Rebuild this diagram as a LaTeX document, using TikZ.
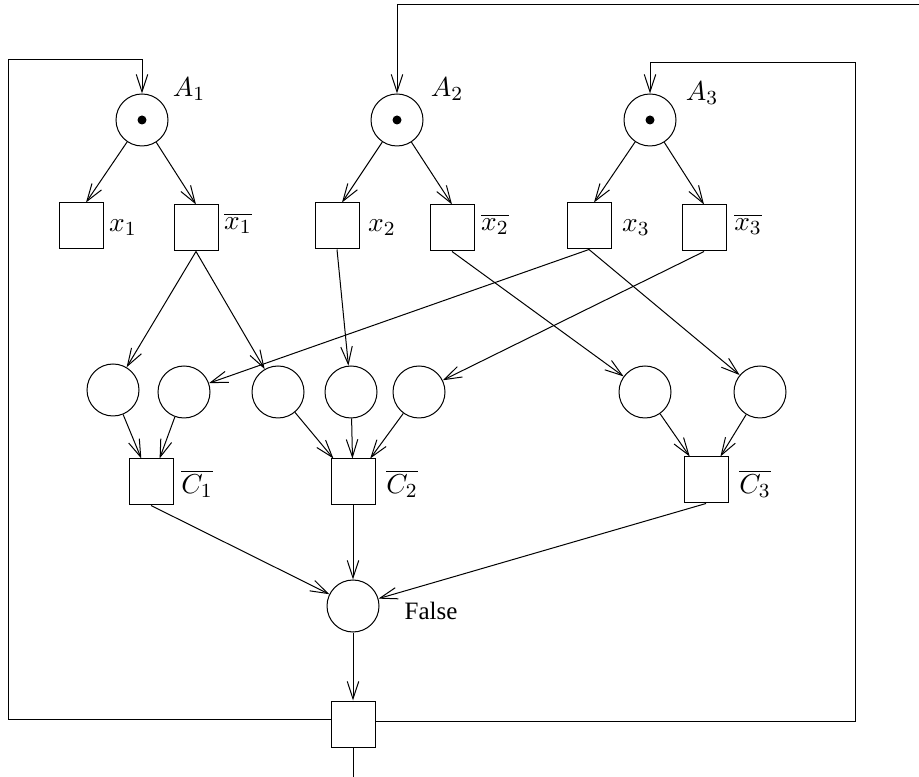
\documentclass[tikz,border=0pt]{standalone}
\usepackage{fontspec}
\newfontfamily\timesfont{Liberation Serif}
\usetikzlibrary{arrows.meta}
\begin{document}
\begin{tikzpicture}[>={Straight Barb[length=7pt,width=4.6pt]},x=0.4pt,y=-0.4pt,
  every node/.style={font=\fontsize{11}{13}\selectfont},
  place/.style={circle,draw,minimum size=20.8pt,inner sep=0pt},
  trans/.style={rectangle,draw,minimum width=17.6pt,minimum height=18.4pt,inner sep=0pt},
  token/.style={circle,fill,inner sep=0pt,minimum size=3.6pt}]
\useasboundingbox (0,0) rectangle (919,777);
\clip (0,0) rectangle (919,777);
% variables
\node[place] (A1) at (142,120) {};
\node[place] (A2) at (397,120) {};
\node[place] (A3) at (650,120) {};
\node[token] (t1) at (A1) {};
\node[token] (t2) at (A2) {};
\node[token] (t3) at (A3) {};
\node (lA1) at (189,89) {$A_1$};
\node (lA2) at (447,89) {$A_2$};
\node (lA3) at (702,93) {$A_3$};
\node[trans] (x1) at (81,226) {};
\node[trans] (nx1) at (196,228) {};
\node[trans] (x2) at (337,226) {};
\node[trans] (nx2) at (452,228) {};
\node[trans] (x3) at (589,226) {};
\node[trans] (nx3) at (704,228) {};
\node (lx1) at (123,228) {$x_1$};
\node (lnx1) at (238,223) {$\overline{x_1}$};
\node (lx2) at (382,228) {$x_2$};
\node (lnx2) at (495,224) {$\overline{x_2}$};
\node (lx3) at (636,228) {$x_3$};
\node (lnx3) at (748,224) {$\overline{x_3}$};
% clauses
\node[place] (p1) at (113,390) {};
\node[place] (p2) at (184,392) {};
\node[place] (p3) at (278,392) {};
\node[place] (p4) at (351,392) {};
\node[place] (p5) at (419,392) {};
\node[place] (p6) at (645,392) {};
\node[place] (p7) at (760,392) {};
\node[trans] (C1) at (151,482) {};
\node[trans] (C2) at (353,482) {};
\node[trans] (C3) at (706,480) {};
\node (lC1) at (197,484) {$\overline{C_1}$};
\node (lC2) at (402,484) {$\overline{C_2}$};
\node (lC3) at (755,484) {$\overline{C_3}$};
\node[place] (F) at (353,606) {};
\node (lF) at (431,611) {\timesfont\fontsize{10}{12}\selectfont False};
\node[trans] (T) at (353,724) {};
% arcs
\draw[->] (A1) -- ([xshift=2pt]x1.north);
\draw[->] (A1) -- (nx1.north);
\draw[->] (A2) -- ([xshift=2pt]x2.north);
\draw[->] (A2) -- (nx2.north);
\draw[->] (A3) -- ([xshift=2pt]x3.north);
\draw[->] (A3) -- (nx3.north);
\draw[->] (nx1.south) -- (p1);
\draw[->] (nx1.south) -- (p3);
\draw[->] (x2.south) -- (p4);
\draw[->] (nx2.south) -- (p6);
\draw[->] (x3.south) -- (p2);
\draw[->] (x3.south) -- (p7);
\draw[->] (nx3.south) -- (p5);
\draw[->] (p1) -- (C1);
\draw[->] (p2) -- (C1);
\draw[->] (p3) -- (C2);
\draw[->] (p4) -- (C2);
\draw[->] (p5) -- (C2);
\draw[->] (p6) -- (C3);
\draw[->] (p7) -- (C3);
\draw[->] (C1.south) -- (F);
\draw[->] (C2) -- (F);
\draw[->] (C3.south) -- (F);
\draw[->] (F) -- (T);
% feedback
\draw[->] (T.west |- 0,719) -| (8,60) -| (A1.north);
\draw[->] (T.east |- 0,721) -| (855,63) -| (A3.north);
\draw[->] (T.south) |- (925,777.3) |- (A2.north |- 0,5) -- (A2.north);
\end{tikzpicture}
\end{document}
